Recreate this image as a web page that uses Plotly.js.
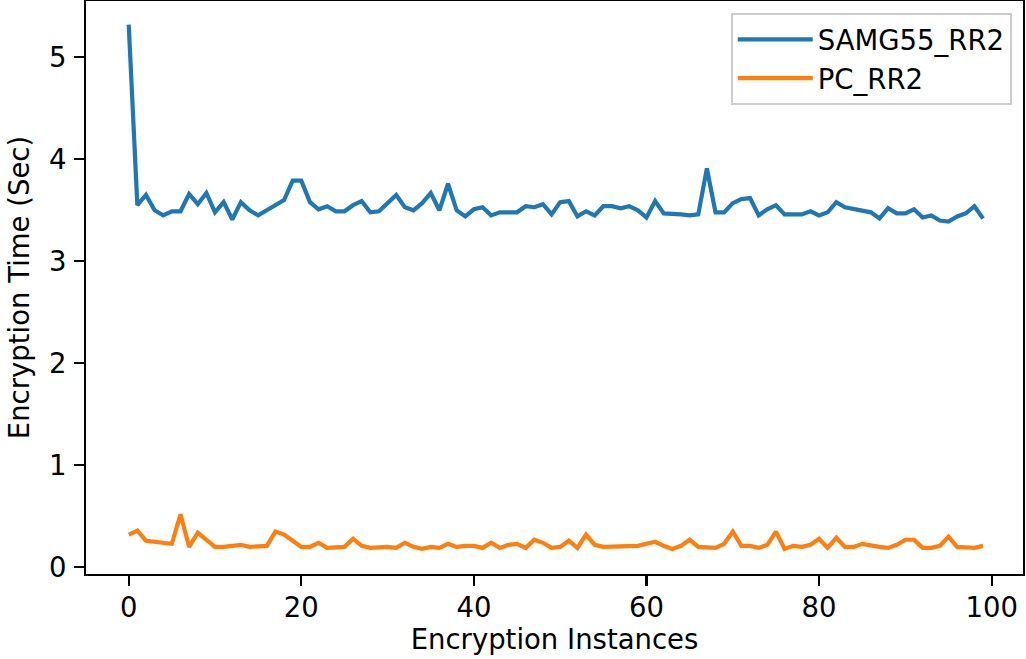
<!DOCTYPE html>
<html>
<head>
<meta charset="utf-8">
<script src="https://cdn.plot.ly/plotly-3.0.1.min.js"></script>
<style>html,body{margin:0;padding:0;background:#fff;}#chart{width:1026px;height:659px;}</style>
</head>
<body>
<div id="chart"></div>
<script>
const instances = Array.from({length: 100}, (_, i) => i);

const samg55RR2 = [
  5.32, 3.55, 3.65, 3.50, 3.45, 3.49, 3.49, 3.66, 3.56, 3.67,
  3.48, 3.58, 3.41, 3.58, 3.50, 3.45, 3.50, 3.55, 3.60, 3.79,
  3.79, 3.58, 3.51, 3.54, 3.49, 3.49, 3.55, 3.59, 3.48, 3.49,
  3.57, 3.65, 3.53, 3.50, 3.57, 3.67, 3.50, 3.76, 3.50, 3.44,
  3.51, 3.53, 3.45, 3.48, 3.48, 3.48, 3.54, 3.53, 3.56, 3.46,
  3.58, 3.59, 3.44, 3.49, 3.45, 3.54, 3.54, 3.52, 3.54, 3.50,
  3.43, 3.59, 3.47, 3.47, 3.46, 3.45, 3.46, 3.91, 3.48, 3.48,
  3.57, 3.61, 3.62, 3.45, 3.51, 3.55, 3.46, 3.46, 3.46, 3.49,
  3.45, 3.48, 3.58, 3.53, 3.51, 3.49, 3.48, 3.42, 3.52, 3.47,
  3.47, 3.51, 3.43, 3.45, 3.40, 3.39, 3.44, 3.47, 3.54, 3.42
];

const pcRR2 = [
  0.32, 0.36, 0.26, 0.25, 0.24, 0.23, 0.52, 0.20, 0.34, 0.27,
  0.20, 0.20, 0.21, 0.22, 0.20, 0.20, 0.21, 0.35, 0.32, 0.26,
  0.20, 0.20, 0.24, 0.19, 0.20, 0.20, 0.28, 0.21, 0.19, 0.20,
  0.20, 0.19, 0.24, 0.20, 0.18, 0.20, 0.19, 0.23, 0.20, 0.21,
  0.21, 0.19, 0.24, 0.19, 0.22, 0.23, 0.19, 0.27, 0.24, 0.19,
  0.20, 0.26, 0.19, 0.32, 0.22, 0.20, 0.20, 0.20, 0.20, 0.21,
  0.23, 0.25, 0.21, 0.18, 0.21, 0.27, 0.20, 0.20, 0.19, 0.23,
  0.35, 0.21, 0.21, 0.19, 0.22, 0.35, 0.18, 0.21, 0.20, 0.22,
  0.28, 0.19, 0.29, 0.20, 0.20, 0.23, 0.21, 0.20, 0.19, 0.22,
  0.27, 0.27, 0.19, 0.19, 0.21, 0.30, 0.20, 0.20, 0.19, 0.21
];

const xTicks = [0, 20, 40, 60, 80, 100];
const yTicks = [0, 1, 2, 3, 4, 5];

const FONT = 'DejaVu Sans, sans-serif';
const FS = 27.5;

const traces = [
  {x: instances, y: samg55RR2, type: 'scatter', mode: 'lines', name: 'SAMG55_RR2',
   line: {color: '#1f77b4', width: 4.2}},
  {x: instances, y: pcRR2, type: 'scatter', mode: 'lines', name: 'PC_RR2',
   line: {color: '#ff7f0e', width: 4.2}}
];

const axisCommon = {
  showgrid: false, zeroline: false, showline: true, mirror: true,
  linecolor: '#000', linewidth: 2.2,
  ticks: 'outside', ticklen: 9.7, tickwidth: 2.2, tickcolor: '#000',
  tickfont: {family: FONT, size: FS, color: '#000'},
  tickmode: 'array'
};

const layout = {
  width: 1026, height: 659,
  margin: {l: 86, r: 3, t: 1, b: 85},
  paper_bgcolor: '#fff', plot_bgcolor: '#fff',
  font: {family: FONT, size: FS, color: '#000'},
  showlegend: true,
  legend: {
    x: 0.988, y: 0.979, xanchor: 'right', yanchor: 'top',
    bgcolor: 'rgba(255,255,255,0.8)', bordercolor: '#cccccc', borderwidth: 2,
    font: {family: FONT, size: FS, color: '#000'},
    itemwidth: 75, tracegroupgap: 0, tracegroupgap: 0
  },
  xaxis: Object.assign({}, axisCommon, {
    range: [-4.95, 103.63], tickvals: xTicks, ticktext: xTicks.map(String),
    ticklabelstandoff: -2,
    title: {text: 'Encryption Instances', font: {family: FONT, size: FS, color: '#000'}, standoff: 6}
  }),
  yaxis: Object.assign({}, axisCommon, {
    range: [-0.066, 5.552], tickvals: yTicks, ticktext: yTicks.map(String),
    ticklabelstandoff: 2,
    title: {text: 'Encryption Time (Sec)', font: {family: FONT, size: FS, color: '#000'}, standoff: 12}
  })
};

Plotly.newPlot('chart', traces, layout, {displayModeBar: false, staticPlot: true});
</script>
</body>
</html>
